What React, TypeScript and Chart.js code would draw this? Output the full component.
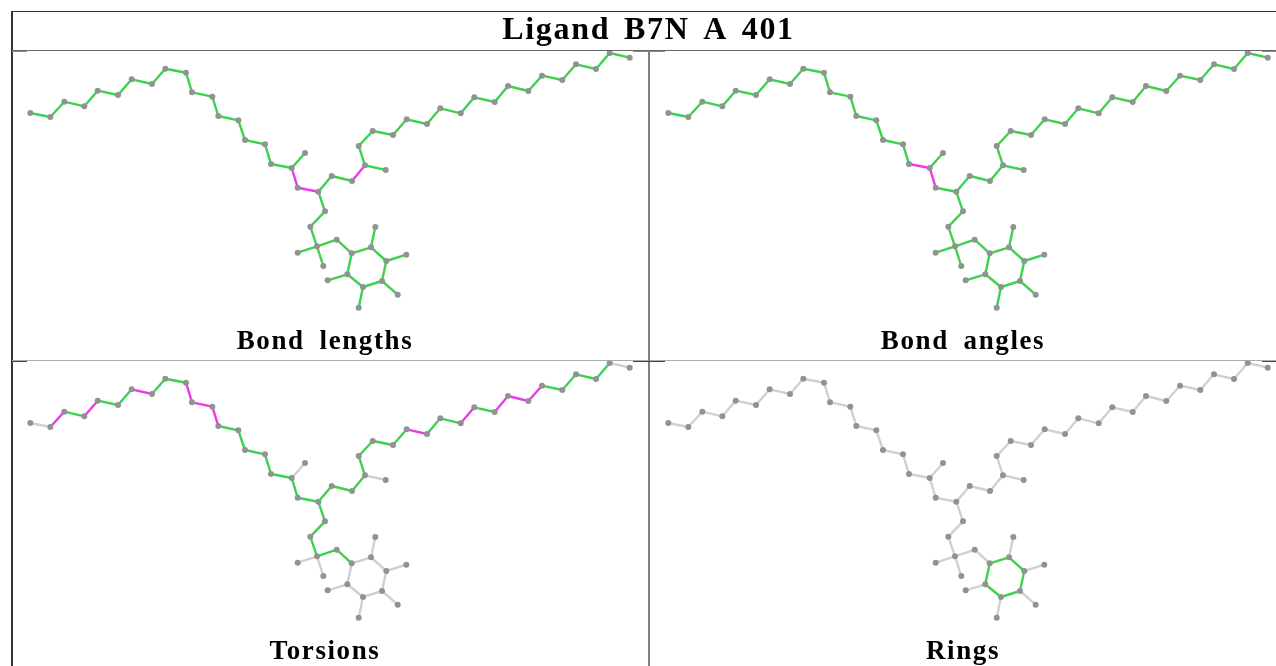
import React, { useEffect, useRef } from "react";
import { Chart, registerables } from "chart.js";

Chart.register(...registerables);

const heading = "Ligand B7N A 401";
const atomX = [30.3, 50.3, 64.3, 84.3, 97.7, 118, 131.7, 152, 165.3, 186, 192, 212.3, 218.3, 238.3, 245, 265, 271, 291.7, 305, 297.7, 318.3, 331.7, 352, 365, 385.7, 358.7, 372.7, 393, 406.7, 427, 440.3, 460.7, 474.3, 494.7, 508, 528.3, 542, 562.3, 576, 596, 609.7, 629.7, 325, 310.3, 317, 297.7, 323.3, 336.7, 351.7, 371, 386.3, 382, 363, 347.3, 375.3, 406.3, 397.7, 358.7, 327.7];
const atomY = [113, 117, 101.7, 106.3, 90.7, 95, 79.3, 84, 68.7, 72.7, 92.3, 96.7, 116, 120.3, 140, 144.3, 164, 168, 153, 187.7, 191.7, 176, 181, 165.3, 170, 146, 131, 135, 119.3, 124, 108.3, 113.3, 97.3, 102, 86, 91, 75.7, 80, 64.3, 69, 53, 57.7, 211.3, 226.7, 246.3, 252.7, 266, 239.7, 253.3, 247.3, 261, 281, 287, 274.3, 227, 254.7, 294.7, 307.7, 280.3];
const bondFrom = [0, 1, 2, 3, 4, 5, 6, 7, 8, 9, 10, 11, 12, 13, 14, 15, 16, 17, 17, 19, 20, 21, 22, 23, 23, 25, 26, 27, 28, 29, 30, 31, 32, 33, 34, 35, 36, 37, 38, 39, 40, 20, 42, 43, 44, 44, 44, 47, 48, 49, 50, 51, 52, 53, 49, 50, 51, 52, 53];
const bondTo = [1, 2, 3, 4, 5, 6, 7, 8, 9, 10, 11, 12, 13, 14, 15, 16, 17, 18, 19, 20, 21, 22, 23, 24, 25, 26, 27, 28, 29, 30, 31, 32, 33, 34, 35, 36, 37, 38, 39, 40, 41, 42, 43, 44, 45, 46, 47, 48, 49, 50, 51, 52, 53, 48, 54, 55, 56, 57, 58];

const lengthOutliers = [18, 19, 22];
const lengthUnchecked: number[] = [];
const angleOutliers = [16, 18];
const angleUnchecked: number[] = [];
const torsionOutliers = [1, 3, 6, 9, 10, 11, 28, 31, 33, 34, 35];
const torsionUnchecked = [0, 17, 23, 40, 44, 45, 48, 49, 50, 51, 52, 53, 54, 55, 56, 57, 58];
const ringChecked = [48, 49, 50, 51, 52, 53];
const ringOutliers: number[] = [];

const GREEN = "#3cd24e";
const MAGENTA = "#ea3aea";
const GREY = "#d0d0d0";
const ATOM = "#929292";

type Seg = { x: number | null; y: number | null };

function segs(ids: number[]): Seg[] {
  const out: Seg[] = [];
  ids.forEach((b) => {
    out.push({ x: atomX[bondFrom[b]], y: atomY[bondFrom[b]] });
    out.push({ x: atomX[bondTo[b]], y: atomY[bondTo[b]] });
    out.push({ x: null, y: null });
  });
  return out;
}

function bondDataset(ids: number[], color: string) {
  return {
    data: segs(ids),
    showLine: true,
    spanGaps: false,
    borderColor: color,
    borderWidth: 2.4,
    borderCapStyle: "round" as const,
    pointRadius: 0,
    clip: false as const,
  };
}

function softMarks(letter: string, word: string) {
  return {
    id: "softMarks",
    beforeDraw(chart: any) {
      chart.ctx.letterSpacing = letter;
      chart.ctx.wordSpacing = word;
    },
    beforeDatasetsDraw(chart: any) {
      chart.ctx.save();
      chart.ctx.filter = "blur(0.6px)";
    },
    afterDatasetsDraw(chart: any) {
      chart.ctx.restore();
    },
  };
}

const FONT = "'Liberation Serif', serif";

function Panel(props: { label: string; left: number; top: number; good: number[]; bad: number[]; idle: number[] }) {
  const ref = useRef<HTMLCanvasElement>(null);
  useEffect(() => {
    const atoms = atomX.map((x, i) => ({ x, y: atomY[i] }));
    const chart = new Chart(ref.current!, {
      type: "scatter",
      data: {
        datasets: [
          { data: atoms, showLine: false, pointRadius: 3, pointBorderWidth: 0, pointBackgroundColor: ATOM, clip: false as const },
          bondDataset(props.bad, MAGENTA),
          bondDataset(props.good, GREEN),
          bondDataset(props.idle, GREY),
        ] as any,
      },
      options: {
        responsive: false,
        animation: false,
        layout: { padding: 0, autoPadding: false },
        scales: {
          x: { type: "linear", display: false, min: 12, max: 638 },
          y: { type: "linear", display: false, min: 51, max: 326, reverse: true },
        },
        plugins: {
          legend: { display: false },
          tooltip: { enabled: false },
          title: {
            display: true,
            text: props.label,
            position: "bottom",
            color: "#000000",
            padding: { top: 0, bottom: 2 },
            font: { family: FONT, size: 27, weight: "bold", lineHeight: "32px" as any },
          },
        },
      },
      plugins: [softMarks("1.6px", "6.5px")],
    });
    return () => chart.destroy();
  }, []);
  return (
    <canvas
      ref={ref}
      width={626}
      height={309}
      style={{ position: "absolute", left: props.left, top: props.top, width: 626, height: 309 }}
    />
  );
}

function Header() {
  const ref = useRef<HTMLCanvasElement>(null);
  useEffect(() => {
    const chart = new Chart(ref.current!, {
      type: "scatter",
      data: { datasets: [] },
      options: {
        responsive: false,
        animation: false,
        layout: { autoPadding: false },
        scales: { x: { display: false }, y: { display: false } },
        plugins: {
          legend: { display: false },
          tooltip: { enabled: false },
          title: {
            display: true,
            text: heading,
            color: "#000000",
            padding: 0,
            font: { family: FONT, size: 32, weight: "bold", lineHeight: "38px" as any },
          },
        },
      },
      plugins: [softMarks("1.7px", "4px")],
    });
    return () => chart.destroy();
  }, []);
  return (
    <canvas
      ref={ref}
      width={1255}
      height={38}
      style={{ position: "absolute", left: 21, top: 12, width: 1255, height: 38 }}
    />
  );
}

function Rule(props: { x: number; y: number; w: number; h: number; c: string }) {
  return (
    <div style={{ position: "absolute", left: props.x, top: props.y, width: props.w, height: props.h, background: props.c }} />
  );
}

export default function App() {
  return (
    <div style={{ position: "fixed", left: 0, top: 0, width: 1276, height: 666, overflow: "hidden", background: "#fff" }}>
      <Rule x={11} y={11} w={1265} h={1} c="#333333" />
      <Rule x={11} y={11} w={1.5} h={655} c="#333333" />
      <Rule x={12} y={50} w={1264} h={1} c="#666666" />
      <Rule x={12} y={360} w={1264} h={1} c="#ababab" />
      <Rule x={648} y={51} w={2} h={615} c="#7f7f7f" />
      <Rule x={12} y={51} w={15} h={1} c="#8a8a8a" />
      <Rule x={633} y={51} w={32} h={1} c="#8a8a8a" />
      <Rule x={1262} y={51} w={14} h={1} c="#8a8a8a" />
      <Rule x={12} y={361} w={15} h={1} c="#444444" />
      <Rule x={633} y={361} w={32} h={1} c="#444444" />
      <Rule x={1262} y={361} w={14} h={1} c="#444444" />
      <Header />
      <Panel
        label="Bond lengths"
        left={12}
        top={51}
        bad={lengthOutliers}
        idle={lengthUnchecked}
        good={bondFrom.map((_, i) => i).filter((i) => !lengthOutliers.includes(i) && !lengthUnchecked.includes(i))}
      />
      <Panel
        label="Bond angles"
        left={649.5}
        top={51}
        bad={angleOutliers}
        idle={angleUnchecked}
        good={bondFrom.map((_, i) => i).filter((i) => !angleOutliers.includes(i) && !angleUnchecked.includes(i))}
      />
      <Panel
        label="Torsions"
        left={12}
        top={361}
        bad={torsionOutliers}
        idle={torsionUnchecked}
        good={bondFrom.map((_, i) => i).filter((i) => !torsionOutliers.includes(i) && !torsionUnchecked.includes(i))}
      />
      <Panel
        label="Rings"
        left={649.5}
        top={361}
        bad={ringOutliers}
        idle={bondFrom.map((_, i) => i).filter((i) => !ringChecked.includes(i))}
        good={ringChecked}
      />
    </div>
  );
}
